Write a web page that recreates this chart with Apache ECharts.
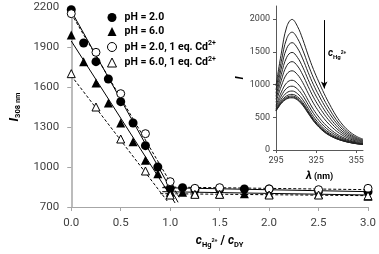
<!DOCTYPE html>
<html><head><meta charset="utf-8">
<script src="https://cdn.jsdelivr.net/npm/echarts@6/dist/echarts.min.js"></script>
<style>html,body{margin:0;padding:0;background:#fff}#c{width:379px;height:254px}</style>
</head><body><div id="c"></div>
<script>
// ---- main chart data ----
const xTicks = [0, 0.5, 1.0, 1.5, 2.0, 2.5, 3.0];
const yTicks = [700, 1000, 1300, 1600, 1900, 2200];
const ph20 = [[0,2180],[0.125,1930],[0.25,1790],[0.375,1660],[0.5,1490],[0.625,1330],[0.75,1160],[0.875,1000],[1.0,840],[1.125,845],[1.25,830],[1.5,835],[1.75,835],[2.0,835],[2.5,820],[3.0,815]];
const ph60 = [[0,1990],[0.125,1790],[0.25,1630],[0.375,1480],[0.5,1330],[0.625,1190],[0.75,1050],[0.875,950],[1.0,810],[1.125,810],[1.25,805],[1.5,800],[1.75,800],[2.0,800],[2.5,795],[3.0,780]];
const ph20Cd = [[0,2150],[0.25,1860],[0.5,1550],[0.75,1250],[1.0,890],[1.25,840],[1.5,845],[2.0,835],[2.5,830],[3.0,840]];
const ph60Cd = [[0,1700],[0.25,1450],[0.5,1210],[0.75,970],[1.0,790],[1.25,795],[1.5,795],[2.0,790],[2.5,790],[3.0,785]];
// fitted lines (descending part and plateau)
const fit20Down = [[0,2170],[1.08,735]];
const fit20Flat = [[0.92,845],[3.0,815]];
const fit60Down = [[0,1945],[1.05,730]];
const fit60Flat = [[0.92,815],[3.0,790]];
const fit20CdDown = [[0,2150],[1.1,760]];
const fit20CdFlat = [[0.93,850],[3.0,830]];
const fit60CdDown = [[0,1685],[0.97,745]];
const fit60CdFlat = [[0.9,800],[3.0,785]];
// ---- inset spectra ----
const wl = [295,299,303,307,311,315,319,323,327,331,335,340,345,350,355,360];
const sp0 = [980,1480,1880,1995,1890,1690,1450,1230,1040,860,700,520,380,280,210,165];
const sp1 = [918,1355,1701,1800,1707,1526,1306,1102,928,765,622,463,341,253,191,152];
const sp2 = [866,1253,1554,1640,1557,1391,1187,997,835,687,558,417,308,231,176,141];
const sp3 = [819,1157,1417,1491,1416,1265,1076,899,749,614,498,373,278,210,162,131];
const sp4 = [774,1067,1288,1350,1285,1147,972,806,668,545,442,333,250,190,149,122];
const sp5 = [729,978,1160,1210,1153,1029,868,714,587,477,386,292,221,171,135,112];
const sp6 = [682,885,1027,1066,1017,907,761,619,504,406,328,250,192,151,122,102];
const sp7 = [654,827,944,975,932,831,694,560,452,362,292,224,174,138,113,96];
const sp8 = [630,779,875,901,862,768,639,511,408,325,262,202,159,128,106,91];
const sp9 = [613,747,828,850,814,725,601,477,379,300,242,187,148,121,101,88];
const sp10 = [605,731,805,825,791,704,582,461,365,288,232,180,143,117,99,86];
const sp11 = [600,720,790,808,775,690,570,450,355,280,225,175,140,115,97,85];
const sp12 = [595,712,780,797,764,680,562,444,350,276,222,173,139,114,96,84];
const spectra = [sp0,sp1,sp2,sp3,sp4,sp5,sp6,sp7,sp8,sp9,sp10,sp11,sp12];
const insetXTicks = [295, 325, 355];
const insetYTicks = [0, 500, 1000, 1500, 2000];
const arrowLine = [[331,1985],[331,940]];
const legendNames = ['pH = 2.0','pH = 6.0','pH = 2.0, 1 eq. Cd2+','pH = 6.0, 1 eq. Cd2+'];

const FONT = 'Roboto';
const chart = echarts.init(document.getElementById('c'));

function fitSeries(data, dashed) {
  return {type:'line', data: data, xAxisIndex:0, yAxisIndex:0, symbol:'none', silent:true,
    lineStyle:{color:'#000', width:1, type: dashed ? [3,2] : 'solid'}, z:2};
}
function scat(name, data, symbol, open) {
  return {type:'scatter', name:name, data:data, xAxisIndex:0, yAxisIndex:0, symbol:symbol, symbolSize: open ? 8 : 9,
    itemStyle: open ? {color:'#fff', borderColor:'#000', borderWidth:1, opacity:1} : {color:'#000', opacity:1}, z:3};
}
const series = [
  fitSeries(fit20Down,false), fitSeries(fit20Flat,false),
  fitSeries(fit60Down,false), fitSeries(fit60Flat,false),
  fitSeries(fit20CdDown,true), fitSeries(fit20CdFlat,true),
  fitSeries(fit60CdDown,true), fitSeries(fit60CdFlat,true),
  scat(legendNames[0], ph20, 'circle', false),
  scat(legendNames[1], ph60, 'triangle', false),
  scat(legendNames[2], ph20Cd, 'circle', true),
  scat(legendNames[3], ph60Cd, 'triangle', true)
];
spectra.forEach(function(sp, i){
  const s = {type:'line', data: wl.map(function(w,j){return [w, sp[j]];}), xAxisIndex:1, yAxisIndex:1,
    symbol:'none', smooth:0.4, silent:true, lineStyle:{color:'#222', width:1}, z:2};
  if (i === 0) {
    s.markLine = {silent:true, symbol:['none','arrow'], symbolSize:[5,7],
      lineStyle:{color:'#000', width:1, type:'solid'}, label:{show:false},
      data:[[{coord:arrowLine[0]},{coord:arrowLine[1]}]]};
  }
  series.push(s);
});

const plain = function(v){ return String(v); };
const labelStyle = {fontFamily:FONT, fontSize:11.5, color:'#404040'};
const insetLabel = {fontFamily:FONT, fontSize:9, color:'#404040'};
const legRich = {
  b:{fontFamily:FONT, fontWeight:'bold', fontSize:10.5, color:'#000', lineHeight:14},
  sup:{fontFamily:FONT, fontWeight:'bold', fontSize:7, color:'#000', verticalAlign:'top', lineHeight:14}
};

chart.setOption({
  animation:false,
  backgroundColor:'#fff',
  grid:[
    {left:53, right:10, top:7, bottom:43},
    {left:276, right:16, top:6, bottom:104}
  ],
  legend:{
    orient:'vertical', left:102, top:7, itemWidth:9, itemHeight:9, itemGap:3,
    data:legendNames,
    itemStyle:{borderWidth:1},
    formatter:function(n){ return n.indexOf('Cd2+')>=0 ? '{b|'+n.replace('Cd2+','Cd')+'}{sup|2+}' : '{b|'+n+'}'; },
    textStyle:{rich:legRich, padding:[0,0,0,3]},
    selectedMode:false
  },
  xAxis:[
    {type:'value', gridIndex:0, min:0, max:3, interval:0.5,
     axisLine:{lineStyle:{color:'#a6a6a6', width:1}}, axisTick:{show:true, length:4, lineStyle:{color:'#a6a6a6'}},
     splitLine:{show:false},
     axisLabel:Object.assign({margin:10, formatter:function(v){return v.toFixed(1);}}, labelStyle),
     name:'{i|c}{sub|Hg}{sup|2+}{t| / }{i|c}{sub|DY}', nameLocation:'middle', nameGap:26,
     nameTextStyle:{rich:{
       i:{fontFamily:FONT, fontStyle:'italic', fontWeight:'bold', fontSize:12, color:'#000', lineHeight:16},
       sub:{fontFamily:FONT, fontWeight:'bold', fontSize:7.5, color:'#000', verticalAlign:'bottom', lineHeight:16},
       sup:{fontFamily:FONT, fontWeight:'bold', fontSize:5.5, color:'#000', verticalAlign:'middle', lineHeight:16},
       t:{fontFamily:FONT, fontWeight:'bold', fontSize:12, color:'#000', lineHeight:16}
     }}},
    {type:'value', gridIndex:1, min:295, max:360,
     axisLine:{lineStyle:{color:'#595959', width:1}},
     axisTick:{show:true, length:3, customValues:insetXTicks, lineStyle:{color:'#595959'}},
     splitLine:{show:false},
     axisLabel:Object.assign({margin:6, customValues:insetXTicks, formatter:plain}, insetLabel),
     name:'{i|λ}{t| (nm)}', nameLocation:'middle', nameGap:21,
     nameTextStyle:{rich:{
       i:{fontFamily:FONT, fontStyle:'italic', fontWeight:'bold', fontSize:11, color:'#000'},
       t:{fontFamily:FONT, fontWeight:'bold', fontSize:9, color:'#000'}
     }}}
  ],
  yAxis:[
    {type:'value', gridIndex:0, min:700, max:2200, interval:300,
     axisLine:{show:true, lineStyle:{color:'#a6a6a6', width:1.5}}, axisTick:{show:true, length:4, lineStyle:{color:'#a6a6a6'}},
     splitLine:{show:false},
     axisLabel:Object.assign({margin:12, formatter:plain}, labelStyle),
     name:'{i|I}{sub|308 nm}', nameLocation:'middle', nameGap:44, nameRotate:90,
     nameTextStyle:{rich:{
       i:{fontFamily:FONT, fontStyle:'italic', fontWeight:'bold', fontSize:13, color:'#000', lineHeight:16},
       sub:{fontFamily:FONT, fontWeight:'bold', fontSize:7.5, color:'#000', verticalAlign:'bottom', lineHeight:16}
     }}},
    {type:'value', gridIndex:1, min:0, max:2200,
     axisLine:{show:true, lineStyle:{color:'#595959', width:1}},
     axisTick:{show:true, length:3, customValues:insetYTicks, lineStyle:{color:'#595959'}},
     splitLine:{show:false},
     axisLabel:Object.assign({margin:6, customValues:insetYTicks, formatter:plain}, insetLabel),
     name:'I', nameLocation:'middle', nameGap:26, nameRotate:90,
     nameTextStyle:{fontFamily:FONT, fontStyle:'italic', fontWeight:'bold', fontSize:11, color:'#000'}}
  ],
  graphic:[
    {type:'text', left:328, top:48, silent:true,
     style:{text:'{i|c}{sub|Hg}{sup|2+}', rich:{
       i:{fontFamily:FONT, fontStyle:'italic', fontWeight:'bold', fontSize:10, fill:'#000', lineHeight:14},
       sub:{fontFamily:FONT, fontWeight:'bold', fontSize:6, fill:'#000', verticalAlign:'bottom', lineHeight:14},
       sup:{fontFamily:FONT, fontWeight:'bold', fontSize:5, fill:'#000', verticalAlign:'middle', lineHeight:14}
     }}}
  ],
  series: series
});
</script></body></html>
